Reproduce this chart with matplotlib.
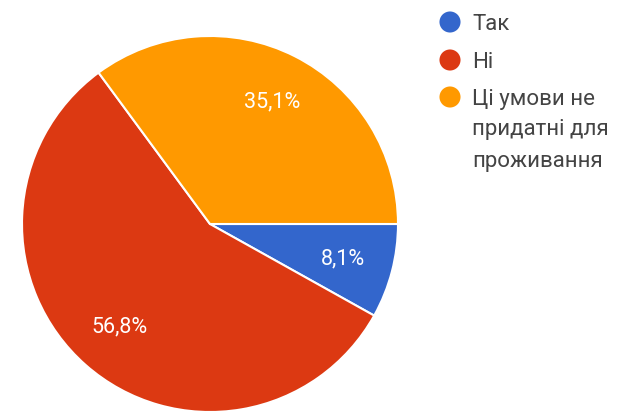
import matplotlib
matplotlib.use("Agg")
import matplotlib.pyplot as plt

# answers and their shares (%)
labels = ["Так", "Ні", "Ці умови не придатні для проживання"]
legend_lines = [["Так"], ["Ні"], ["Ці умови не", "придатні для", "проживання"]]
values = [8.1, 56.8, 35.1]
colors = ["#3366cc", "#dc3912", "#ff9900"]

W, H = 629, 412
fig = plt.figure(figsize=(W / 100, H / 100), dpi=100)

# pie: centre ~(210, 224) px, radius ~188 px
cx, cy, r = 210, 224, 188
ax = fig.add_axes([(cx - r) / W, (H - cy - r) / H, 2 * r / W, 2 * r / H])
ax.pie(
    values,
    colors=colors,
    startangle=0,
    counterclock=False,
    autopct=lambda p: f"{p:.1f}%".replace(".", ","),
    pctdistance=0.73,
    wedgeprops=dict(edgecolor="white", linewidth=1.5),
    textprops=dict(color="white", fontsize=15.5, family="Roboto"),
)
ax.set_xlim(-1, 1)
ax.set_ylim(-1, 1)
ax.set_aspect("equal")
ax.axis("off")

# legend drawn by hand: dot + wrapped text, first line level with the dot
leg = fig.add_axes([0, 0, 1, 1], facecolor="none")
leg.set_xlim(0, W)
leg.set_ylim(H, 0)
leg.axis("off")
dot_y = [22, 60, 97]
for lines, col, y in zip(legend_lines, colors, dot_y):
    leg.scatter([450], [y], s=230, color=col, edgecolor="none")
    for i, line in enumerate(lines):
        leg.text(472, y + 7.5 + 31 * i, line, va="baseline", ha="left",
                 fontsize=16, family="Roboto", color="#444444")

fig.savefig("out.png", dpi=100)
